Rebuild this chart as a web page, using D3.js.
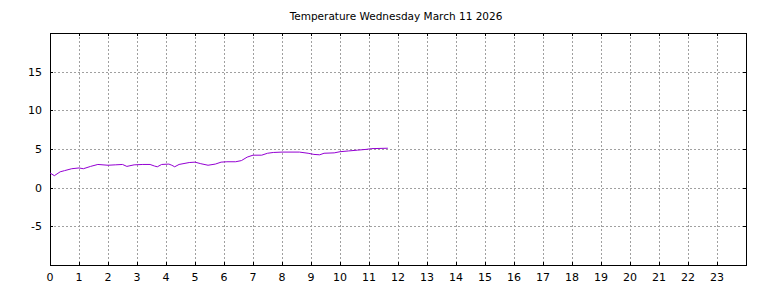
<!DOCTYPE html>
<html>
<head>
<meta charset="utf-8">
<script src="https://cdn.jsdelivr.net/npm/d3@7"></script>
<style>
  body { margin: 0; background: #fff; }
  text { font-family: "DejaVu Sans", sans-serif; fill: #000; }
</style>
</head>
<body>
<div id="chart"></div>
<script>
// chart data
var title = "Temperature Wednesday March 11 2026";
var xTicks = d3.range(0, 24);
var yTicks = [-5, 0, 5, 10, 15];
var hours = [0, 0.15, 0.35, 0.5, 0.75, 1.0, 1.15, 1.4, 1.65, 2.0, 2.25, 2.5, 2.65, 2.9,
  3.2, 3.45, 3.6, 3.7, 3.85, 4.1, 4.2, 4.3, 4.45, 4.8, 5.0, 5.2, 5.45, 5.7, 5.9,
  6.1, 6.4, 6.6, 6.8, 7.0, 7.3, 7.5, 7.7, 8.0, 8.6, 8.9, 9.1, 9.3, 9.45, 9.8,
  10.0, 10.3, 10.6, 10.9, 11.1, 11.65];
var temps = [1.9, 1.55, 2.05, 2.2, 2.45, 2.55, 2.45, 2.75, 3.0, 2.9, 2.95, 3.0, 2.75, 2.95,
  3.0, 3.0, 2.8, 2.7, 3.0, 3.05, 2.9, 2.7, 3.0, 3.25, 3.3, 3.1, 2.9, 3.05, 3.3,
  3.35, 3.35, 3.5, 3.95, 4.2, 4.2, 4.45, 4.55, 4.6, 4.6, 4.45, 4.3, 4.25, 4.45, 4.5,
  4.65, 4.75, 4.85, 4.95, 5.05, 5.1];

var W = 768, H = 288;
var margin = {top: 33, right: 22, bottom: 23, left: 50};
var width = W - margin.left - margin.right;
var height = H - margin.top - margin.bottom;

var xScale = d3.scaleLinear().domain([0, 24]).range([0, width]);
var yScale = d3.scaleLinear().domain([-10, 20]).range([height, 0]);

var svg = d3.select("#chart").append("svg")
    .attr("width", W)
    .attr("height", H);

svg.append("text")
    .attr("x", 396)
    .attr("y", 20)
    .attr("text-anchor", "middle")
    .style("font-size", "10.5px")
    .text(title);

var g = svg.append("g")
    .attr("transform", "translate(" + margin.left + "," + margin.top + ")");

// grid
g.append("g").selectAll("line")
    .data(xTicks.filter(function(d) { return d > 0; }))
  .enter().append("line")
    .attr("x1", function(d) { return xScale(d) + 0.5; })
    .attr("x2", function(d) { return xScale(d) + 0.5; })
    .attr("y1", 0)
    .attr("y2", height)
    .attr("stroke", "#a0a0a0")
    .attr("stroke-dasharray", "2,2");

g.append("g").selectAll("line")
    .data(yTicks)
  .enter().append("line")
    .attr("x1", 0)
    .attr("x2", width)
    .attr("y1", function(d) { return Math.round(yScale(d)) + 0.5; })
    .attr("y2", function(d) { return Math.round(yScale(d)) + 0.5; })
    .attr("stroke", "#a0a0a0")
    .attr("stroke-dasharray", "2,2");

// inward ticks on all four sides
var tickLen = 3;
xTicks.forEach(function(d) {
  var x = Math.round(xScale(d)) + 0.5;
  g.append("line").attr("x1", x).attr("x2", x).attr("y1", 0).attr("y2", tickLen)
      .attr("stroke", "#000");
  g.append("line").attr("x1", x).attr("x2", x).attr("y1", height).attr("y2", height - tickLen)
      .attr("stroke", "#000");
});
yTicks.forEach(function(d) {
  var y = Math.round(yScale(d)) + 0.5;
  g.append("line").attr("x1", 0).attr("x2", tickLen).attr("y1", y).attr("y2", y)
      .attr("stroke", "#000");
  g.append("line").attr("x1", width).attr("x2", width - tickLen).attr("y1", y).attr("y2", y)
      .attr("stroke", "#000");
});

// tick labels
g.append("g").selectAll("text")
    .data(xTicks)
  .enter().append("text")
    .attr("x", function(d) { return xScale(d); })
    .attr("y", height + 16)
    .attr("text-anchor", "middle")
    .style("font-size", "11px")
    .text(function(d) { return d; });

g.append("g").selectAll("text")
    .data(yTicks)
  .enter().append("text")
    .attr("x", -8)
    .attr("y", function(d) { return yScale(d) + 4; })
    .attr("text-anchor", "end")
    .style("font-size", "11px")
    .text(function(d) { return d; });

// frame
g.append("rect")
    .attr("x", 0.5)
    .attr("y", 0.5)
    .attr("width", width)
    .attr("height", height)
    .attr("fill", "none")
    .attr("stroke", "#000");

// temperature line
var points = hours.map(function(h, i) { return [h, temps[i]]; });
var line = d3.line()
    .x(function(d) { return xScale(d[0]); })
    .y(function(d) { return yScale(d[1]); });

g.append("path")
    .datum(points)
    .attr("fill", "none")
    .attr("stroke", "#9400d3")
    .attr("stroke-width", 1)
    .attr("d", line);
</script>
</body>
</html>
